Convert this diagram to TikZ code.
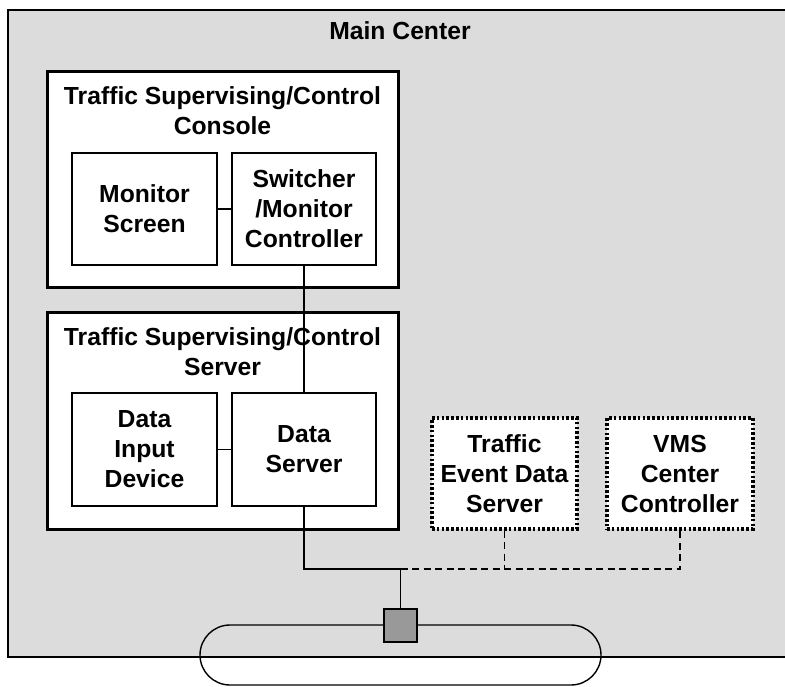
\documentclass[tikz,border=0pt]{standalone}
\usepackage{fontspec}
\setmainfont{Liberation Sans}
\usetikzlibrary{shapes.misc}
\definecolor{centerbg}{HTML}{DCDCDC}
\definecolor{hubgray}{HTML}{999999}
\tikzset{
  lbl/.style={font=\fontsize{24.7}{30}\selectfont\bfseries, align=center, inner sep=0pt},
  group/.style={draw, line width=3pt, fill=white, inner sep=0pt},
  unit/.style={draw, line width=1.3pt, fill=white, inner sep=0pt, lbl},
  extunit/.style={draw, line width=3.4pt, dash pattern=on 2.6pt off 2.2pt, fill=white, inner sep=0pt, lbl},
  wire/.style={line width=1.4pt},
  optwire/.style={line width=1.4pt, dash pattern=on 7pt off 4.5pt},
}
\begin{document}
\begin{tikzpicture}[x=1pt, y=-1pt]
\useasboundingbox (0,0) rectangle (785,687);
\fill[white] (0,0) rectangle (785,687);

% main center area (runs past the right edge)
\draw[line width=1.6pt, fill=centerbg] (8,10) rectangle (800,657);
\node[lbl, anchor=base] (maintitle) at (400,40) {Main Center};

% console group
\node[group, minimum width=351pt, minimum height=216pt] (console) at (222.5,180) {};
\node[lbl, anchor=base] (consoletitle) at (222.5,135) {Traffic Supervising/Control\\Console};
\node[unit, minimum width=145pt, minimum height=112pt] (monitor) at (144.5,209) {Monitor\\Screen};
\node[unit, minimum width=144pt, minimum height=112pt] (switcher) at (304,209) {Switcher\\/Monitor\\Controller};

% server group
\node[group, minimum width=351pt, minimum height=216pt] (server) at (222.5,421) {};
\node[lbl, anchor=base] (servertitle) at (222.5,375) {Traffic Supervising/Control\\Server};
\node[unit, minimum width=145pt, minimum height=113pt] (input) at (144.5,449.5) {Data\\Input\\Device};
\node[unit, minimum width=144pt, minimum height=113pt] (dataserver) at (304,449.5) {Data\\Server};

% external units
\node[extunit, minimum width=145pt, minimum height=111pt] (event) at (504.5,473.5) {Traffic\\Event Data\\Server};
\node[extunit, minimum width=146pt, minimum height=111pt] (vms) at (680,473.5) {VMS\\Center\\Controller};

% links
\draw[wire] (monitor.east) -- (switcher.west);
\draw[wire] (input.east) -- (dataserver.west);
\draw[wire] (switcher.south) -- (dataserver.north);
\coordinate (junction) at (400.5,569);
\draw[wire] (dataserver.south) |- (junction);
\draw[optwire] (junction) -| (vms.south);
\draw[optwire] (event.south) -- (event.south |- junction);

% network ring and access node
\node[draw, line width=1.4pt, rounded rectangle, rounded rectangle arc length=180,
      minimum width=401pt, minimum height=60pt, inner sep=0pt] (ring) at (400.5,655) {};
\node[draw, line width=1.4pt, fill=hubgray, minimum width=33pt, minimum height=33pt, inner sep=0pt] (hub) at (400.5,625.5) {};
\draw[wire] (junction) -- (hub.north);
\end{tikzpicture}
\end{document}
